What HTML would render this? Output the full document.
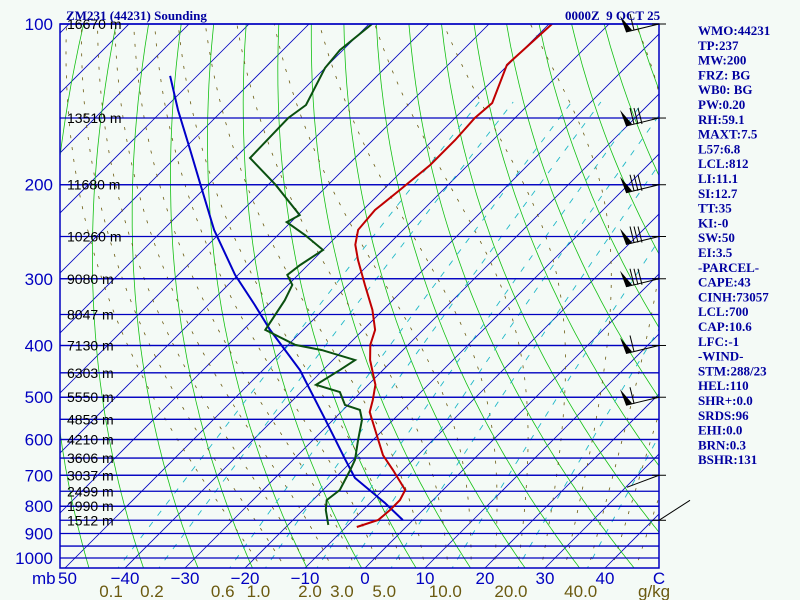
<!DOCTYPE html>
<html><head><meta charset="utf-8"><style>
html,body{margin:0;padding:0;background:#f4faf6;}
svg{display:block;font-family:"Liberation Sans",sans-serif;}
.st{font-family:"Liberation Serif",serif;font-weight:bold;font-size:13px;fill:#0000a0;}
</style></head><body>
<svg id="chart" width="800" height="600" viewBox="0 0 800 600" xmlns="http://www.w3.org/2000/svg">
<rect x="0" y="0" width="800" height="600" fill="#f4faf6"/>
<defs><clipPath id="pc"><rect x="60" y="24" width="599" height="544"/></clipPath></defs>
<g id="grid" clip-path="url(#pc)"></g>
<g id="plines"></g>
<g id="series" clip-path="url(#pc)"></g>
<rect x="60" y="24" width="599" height="544" fill="none" stroke="#0000c0" stroke-width="1.5"/>
<g id="labels"></g>
<g id="barbs"></g>
<text class="st" x="66" y="20">ZM231 (44231) Sounding</text>
<text class="st" x="565" y="20">0000Z&#160; 9 OCT 25</text>
<g id="stats"></g>
</svg>
<script>
const NS="http://www.w3.org/2000/svg";
const tempP=[100,119.3,140.6,150,164.9,183.7,204.6,223,243,259,276.7,308,343,374,399,426,474,506,533,576,642,684,746,779,813,849,875];
const tempT=[-59.5,-60.2,-56.3,-56.7,-56.3,-56.3,-57.2,-58,-57.5,-55.5,-52.5,-47.2,-41.8,-38,-36.3,-33.8,-28.8,-26.7,-25.2,-21.3,-15.8,-11.7,-6.3,-5.5,-5.5,-5.8,-8.2];
const dewP=[100,111.9,120.9,141.8,150,178.2,200,228,235,248.4,265,282.7,295,308,329,374,399,408,426,445,474,489,517,528,551,601,655,684,746,779,813,867];
const dewT=[-89.5,-90.5,-90,-87,-87.8,-87.5,-78.8,-69.7,-70.7,-65.5,-60,-61.3,-61.8,-59.3,-58,-56.3,-48.8,-43.5,-36.3,-37.2,-38.7,-33.5,-30.5,-27.2,-25.2,-22.5,-19.7,-18.8,-17.2,-17.7,-16.2,-13.3];
const parcelP=[125.1,144.9,172.2,200,243,295,336,374,445,551,655,708,789,849];
const parcelT=[-114.5,-107.5,-98.8,-91.3,-81.5,-70.5,-62.2,-55.5,-43.8,-31.3,-21.3,-16.7,-7.5,-1.7];
const mainLevels=[100,200,300,400,500,600,700,800,900,1000];
const heightLevels=[100,150,200,250,300,350,400,450,500,550,600,650,700,750,800,850];
const heightLabels=["16670 m","13510 m","11680 m","10260 m","9080 m","8047 m","7130 m","6303 m","5550 m","4853 m","4210 m","3606 m","3037 m","2499 m","1990 m","1512 m"];
const extraLevels=[950];
const tempTicks=[-40,-30,-20,-10,0,10,20,30,40];
const mixRatios=[0.1,0.2,0.6,1.0,2.0,3.0,5.0,10.0,20.0,40.0];
const mixLabels=["0.1","0.2","0.6","1.0","2.0","3.0","5.0","10.0","20.0","40.0"];
const windP=[100,150,200,250,300,400,500,700,850];
const statsText=["WMO:44231","TP:237","MW:200","FRZ: BG","WB0: BG","PW:0.20","RH:59.1","MAXT:7.5","L57:6.8","LCL:812","LI:11.1","SI:12.7","TT:35","KI:-0","SW:50","EI:3.5","-PARCEL-","CAPE:43","CINH:73057","LCL:700","CAP:10.6","LFC:-1","-WIND-","STM:288/23","HEL:110","SHR+:0.0","SRDS:96","EHI:0.0","BRN:0.3","BSHR:131"];

const K=231.9;
function yP(p){return 24+K*Math.log(p/100);}
function xT(t,p){return 365+6*t+(568-yP(p));}
function mk(tag,attrs,parent){const e=document.createElementNS(NS,tag);for(const k in attrs)e.setAttribute(k,attrs[k]);parent.appendChild(e);return e;}
const grid=document.getElementById('grid');
function poly(pts,stroke,w,dash,parent){const e=mk('polyline',{points:pts.map(q=>q[0].toFixed(1)+','+q[1].toFixed(1)).join(' '),fill:'none',stroke:stroke,'stroke-width':w},parent);if(dash)e.setAttribute('stroke-dasharray',dash);return e;}
const pgrid=[];for(let p=80;p<=1060;p+=10)pgrid.push(p);
// isotherms
for(let t=-150;t<=50;t+=10){
  const e=poly([[xT(t,1060),yP(1060)],[xT(t,80),yP(80)]],'#0000c0',0.8,null,grid);
  
}
// dry adiabats
for(let th=180;th<=600;th+=9){
  const pts=pgrid.map(p=>{const T=th*Math.pow(p/1000,0.22)-273.15;return [xT(T,p),yP(p)];});
  const e=poly(pts,'#14c014',0.8,null,grid);
  
}
// moist adiabats
function es(T){return 6.112*Math.exp(17.67*T/(T+243.5));}
function step(Tk,p,dp){const e=es(Tk-273.15),rs=0.622*e/(p-e),Lv=2.5e6,Rd=287,cp=1004;
  const g=(Rd*Tk+Lv*rs)/(cp+Lv*Lv*rs*0.622/(Rd*Tk*Tk));return Tk+g*dp/p;}
for(let tw=-20;tw<=45;tw+=4){
  let T=tw+273.15;for(let q=1000;q<1060;q+=5)T=step(T,q,5);
  const pts=[];
  for(let p=1060;p>=100;p-=5){pts.push([xT(T-273.15,p),yP(p)]);T=step(T,p,-5);}
  const e=poly(pts,'#6b5a10',0.8,'3,9',grid);
  
}
// mixing ratio lines
function tdw(w,p){const e=w*p/(622+w);const l=Math.log(e/6.112);return 243.5*l/(17.67-l);}
for(const w of mixRatios){
  const pts=[];for(let p=1060;p>=130;p-=20)pts.push([xT(tdw(w,p),p),yP(p)]);
  const e=poly(pts,'#20b8c8',0.9,'6,8',grid);
  
}
// pressure lines
const pl=document.getElementById('plines');
for(const p of heightLevels.concat(mainLevels,extraLevels)){
  const y=yP(p);const e=mk('line',{x1:60,x2:659,y1:y,y2:y,stroke:'#0000c0','stroke-width':1.3},pl);
  
}
// series
const ser=document.getElementById('series');
function curve(P,T,color,name){const e=poly(P.map((p,i)=>[xT(T[i],p),yP(p)]),color,2,null,ser);
  }
curve(parcelP,parcelT,'#0000c8','parcel-trace');
curve(dewP,dewT,'#0a5010','dewpoint-trace');
curve(tempP,tempT,'#c00000','temperature-trace');
// labels
const lb=document.getElementById('labels');
mainLevels.forEach(p=>{const t=mk('text',{x:53,y:yP(p)+6,'text-anchor':'end','font-size':17,fill:'#0000c0'},lb);t.textContent=p;
  });
heightLevels.forEach((p,i)=>{const t=mk('text',{x:67,y:yP(p)+5,'font-size':14,fill:'#000'},lb);t.textContent=heightLabels[i];
  });
{const t=mk('text',{x:32,y:584,'font-size':17,fill:'#0000c0'},lb);t.textContent='mb';
 const u=mk('text',{x:58,y:584,'font-size':17,fill:'#0000c0'},lb);u.textContent='50';}
tempTicks.forEach(t=>{const e=mk('text',{x:365+6*t,y:584,'text-anchor':'middle','font-size':17,fill:'#0000c0'},lb);e.textContent=(t<0?'\u2212'+(-t):t);
  });
{const t=mk('text',{x:659,y:584,'text-anchor':'middle','font-size':17,fill:'#0000c0'},lb);t.textContent='C';}
mixRatios.forEach((w,i)=>{const x=xT(tdw(w,1050),1050)-6;const e=mk('text',{x:x,y:597,'text-anchor':'middle','font-size':17,fill:'#6b5a10'},lb);e.textContent=mixLabels[i];
  });
{const t=mk('text',{x:638,y:597,'font-size':17,fill:'#6b5a10'},lb);t.textContent='g/kg';}
// barbs
const bb=document.getElementById('barbs');
windP.forEach((p,i)=>{const y=yP(p);const g=mk('g',{},bb);
  
  mk('line',{x1:652,x2:666,y1:y,y2:y,stroke:'#000'},g);
  if(p>=700){mk('line',{x1:659,y1:y,x2:p==850?690:627,y2:p==850?y-20:y+12,stroke:'#000'},g);return;}
  mk('line',{x1:659,y1:y,x2:626,y2:y+8,stroke:'#000'},g);
  mk('polygon',{points:`626,${y+8} 620,${y-8} 632,${y+6}`,fill:'#000'},g);
  const n=p<=100?1:(p>=400?1:3);
  for(let k=0;k<n;k++){const bx=634+k*4;mk('line',{x1:bx,y1:y+6,x2:bx-4,y2:y-10,stroke:'#000'},g);}
});
// stats
const st=document.getElementById('stats');
statsText.forEach((s,i)=>{const t=mk('text',{x:698,y:35+i*14.8,class:'st'},st);t.textContent=s;
  });
</script>
</body></html>
